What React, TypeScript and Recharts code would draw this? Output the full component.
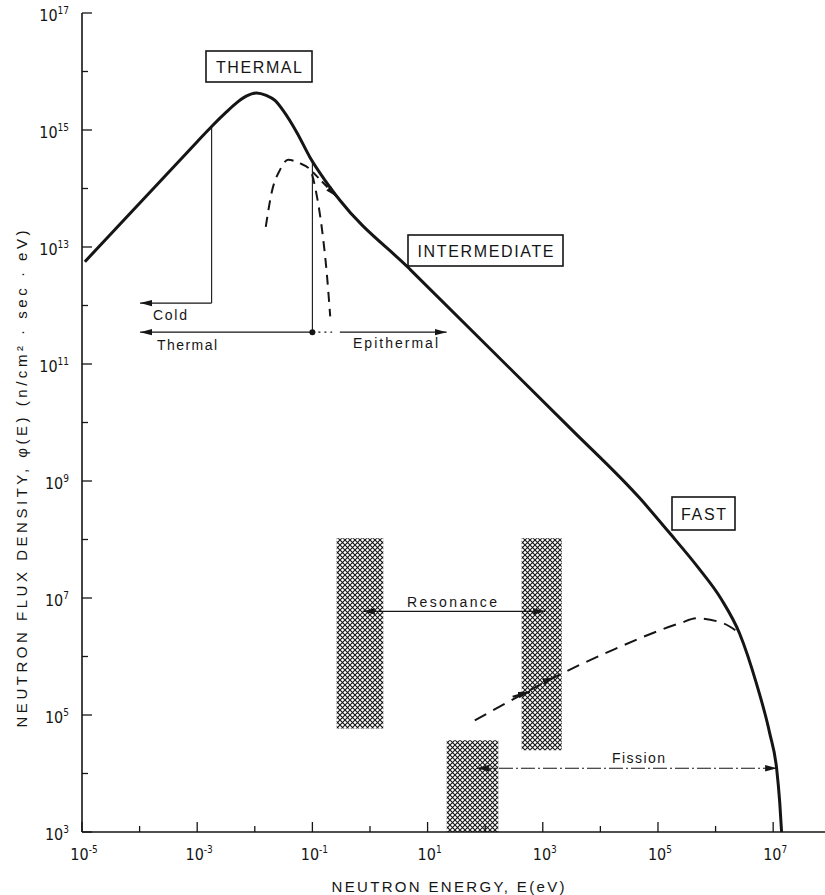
import React from "react";
import {
  ComposedChart,
  Line,
  XAxis,
  YAxis,
  ReferenceArea,
  ReferenceLine,
  ReferenceDot,
} from "recharts";

// total neutron flux spectrum (solid): E in eV, phi in n/cm2.sec.eV
const fluxSpectrum = [
  { E: 1.12e-5, phi: 5.6e12 },
  { E: 1.0e-4, phi: 5.6e13 },
  { E: 1.0e-3, phi: 6.3e14 },
  { E: 1.78e-3, phi: 1.15e15 },
  { E: 3.16e-3, phi: 2.0e15 },
  { E: 5.0e-3, phi: 3.0e15 },
  { E: 7.1e-3, phi: 3.8e15 },
  { E: 1.07e-2, phi: 4.3e15 },
  { E: 1.58e-2, phi: 3.9e15 },
  { E: 2.24e-2, phi: 3.2e15 },
  { E: 3.16e-2, phi: 2.1e15 },
  { E: 5.4e-2, phi: 9.0e14 },
  { E: 9.1e-2, phi: 3.4e14 },
  { E: 0.16, phi: 1.45e14 },
  { E: 0.3, phi: 6.3e13 },
  { E: 4.9, phi: 4.2e12 },
  { E: 2950, phi: 8.1e9 },
  { E: 4.9e4, phi: 5.0e8 },
  { E: 1.58e5, phi: 1.3e8 },
  { E: 5.0e5, phi: 3.3e7 },
  { E: 1.26e6, phi: 9.5e6 },
  { E: 2.6e6, phi: 2.5e6 },
  { E: 5.1e6, phi: 3.5e5 },
  { E: 8.7e6, phi: 4.9e4 },
  { E: 1.15e7, phi: 1.2e4 },
  { E: 1.3e7, phi: 3.2e3 },
  { E: 1.4e7, phi: 1.0e3 },
];

// thermalised (Maxwellian) part, dashed
const thermalSpectrum = [
  { E: 1.55e-2, phi: 2.2e13 },
  { E: 1.95e-2, phi: 8.3e13 },
  { E: 2.75e-2, phi: 2.1e14 },
  { E: 3.8e-2, phi: 3.1e14 },
  { E: 6.0e-2, phi: 2.7e14 },
  { E: 9.1e-2, phi: 2.1e14 },
  { E: 0.117, phi: 8.3e13 },
  { E: 0.145, phi: 2.2e13 },
  { E: 0.178, phi: 3.5e12 },
  { E: 0.204, phi: 6.5e11 },
];

// fission source spectrum, dashed
const fissionSpectrum = [
  { E: 66, phi: 8.1e4 },
  { E: 457, phi: 2.3e5 },
  { E: 1510, phi: 4.3e5 },
  { E: 1.66e4, phi: 1.3e6 },
  { E: 2.4e5, phi: 3.7e6 },
  { E: 4.7e5, phi: 4.5e6 },
  { E: 1.35e6, phi: 3.7e6 },
  { E: 2.6e6, phi: 2.5e6 },
];

// hatched bands: resonance region ends and fission region
const hatchBands = [
  { E1: 0.264, E2: 1.7, phi1: 5.9e4, phi2: 1.05e8 },
  { E1: 430, E2: 2130, phi1: 2.5e4, phi2: 1.05e8 },
  { E1: 21.5, E2: 169, phi1: 1e3, phi2: 3.7e4 },
];

// decade ticks
const xTickExps = [-5, -4, -3, -2, -1, 0, 1, 2, 3, 4, 5, 6, 7];
const yTickExps = [3, 4, 5, 6, 7, 8, 9, 10, 11, 12, 13, 14, 15, 16, 17];

const INK = "#151515";
const SANS = "'Liberation Sans', Arial, sans-serif";
const NARROW = "'Liberation Sans Narrow', 'DejaVu Sans Condensed', 'Liberation Sans', sans-serif";

function XTick(props: any) {
  const { x, y, payload } = props;
  const exp = Math.round(Math.log10(payload.value));
  const major = exp % 2 !== 0;
  return (
    <g>
      <line x1={x} x2={x} y1={y} y2={y - (major ? 10 : 6)} stroke={INK} strokeWidth={1.3} />
      {major && (
        <text x={x + 2} y={y + 28} textAnchor="middle" fontFamily={NARROW} fontSize={16} fill={INK}>
          10
          <tspan dy={-7} fontSize={10}>
            {exp}
          </tspan>
        </text>
      )}
    </g>
  );
}

function YTick(props: any) {
  const { x, y, payload } = props;
  const exp = Math.round(Math.log10(payload.value));
  const major = exp % 2 !== 0;
  return (
    <g>
      <line x1={x} x2={x + (major ? 10 : 6)} y1={y} y2={y} stroke={INK} strokeWidth={1.3} />
      {major && (
        <text x={x - 13} y={y + 8} textAnchor="end" fontFamily={NARROW} fontSize={16} fill={INK}>
          10
          <tspan dy={-7} fontSize={10}>
            {exp}
          </tspan>
        </text>
      )}
    </g>
  );
}

function BoxLabel({ x, y, w, h, text, tl }: any) {
  return (
    <g>
      <rect x={x} y={y} width={w} height={h} fill="#fff" stroke={INK} strokeWidth={1.6} />
      <text
        x={x + w / 2}
        y={y + h / 2 + 6}
        textAnchor="middle"
        fontFamily={SANS}
        fontSize={16}
        fill={INK}
        textLength={tl}
        lengthAdjust="spacing"
      >
        {text}
      </text>
    </g>
  );
}

function SmallLabel({ x, y, text, tl }: any) {
  return (
    <text x={x} y={y} fontFamily={SANS} fontSize={14} fill={INK} textLength={tl} lengthAdjust="spacing">
      {text}
    </text>
  );
}

export default function App() {
  const thin = { stroke: INK, strokeWidth: 1.1, ifOverflow: "visible" as const };
  return (
    <div style={{ position: "absolute", left: 0, top: 0, width: 825, height: 895, background: "#fff" }}>
      <ComposedChart width={825} height={895} margin={{ top: 13, right: 0, bottom: 0, left: 0 }}>
        <defs>
          <pattern id="hatch" width="5" height="5" patternUnits="userSpaceOnUse">
            <rect width="5" height="5" fill="#fff" />
            <path d="M0,0 L5,5 M5,0 L0,5" stroke={INK} strokeWidth="1.1" />
          </pattern>
          <marker
            id="arrowHead"
            viewBox="0 0 12 8"
            refX="12"
            refY="4"
            markerWidth="12"
            markerHeight="8"
            markerUnits="userSpaceOnUse"
            orient="auto-start-reverse"
          >
            <path d="M0,0.8 L12,4 L0,7.2 Z" fill={INK} />
          </marker>
        </defs>

        <XAxis
          dataKey="E"
          type="number"
          scale="log"
          domain={[1e-5, 7.94e7]}
          allowDataOverflow
          ticks={xTickExps.map((e) => 10 ** e)}
          interval={0}
          tickSize={0}
          tickMargin={0}
          tickLine={false}
          height={63}
          axisLine={{ stroke: INK, strokeWidth: 1.6 }}
          tick={(p: any) => <XTick {...p} />}
        />
        <YAxis
          type="number"
          scale="log"
          domain={[1e3, 1e17]}
          allowDataOverflow
          ticks={yTickExps.map((e) => 10 ** e)}
          interval={0}
          tickSize={0}
          tickMargin={0}
          tickLine={false}
          width={82}
          axisLine={{ stroke: INK, strokeWidth: 1.6 }}
          tick={(p: any) => <YTick {...p} />}
        />

        {hatchBands.map((b, i) => (
          <ReferenceArea
            key={i}
            x1={b.E1}
            x2={b.E2}
            y1={b.phi1}
            y2={b.phi2}
            fill="url(#hatch)"
            fillOpacity={1}
            stroke="none"
            ifOverflow="visible"
          />
        ))}

        {/* cold / thermal / epithermal markers */}
        <ReferenceLine segment={[{ x: 1.78e-3, y: 1.15e15 }, { x: 1.78e-3, y: 1.1e12 }]} {...thin} />
        <ReferenceLine
          segment={[{ x: 1.78e-3, y: 1.1e12 }, { x: 1.02e-4, y: 1.1e12 }]}
          {...thin}
          markerEnd="url(#arrowHead)"
        />
        <ReferenceLine segment={[{ x: 0.1, y: 3.0e14 }, { x: 0.1, y: 3.5e11 }]} {...thin} />
        <ReferenceLine
          segment={[{ x: 0.1, y: 3.5e11 }, { x: 1.02e-4, y: 3.5e11 }]}
          {...thin}
          markerEnd="url(#arrowHead)"
        />
        <ReferenceLine
          segment={[{ x: 0.1, y: 3.5e11 }, { x: 0.22, y: 3.5e11 }]}
          {...thin}
          strokeDasharray="2 4"
        />
        <ReferenceLine
          segment={[{ x: 0.3, y: 3.5e11 }, { x: 21.4, y: 3.5e11 }]}
          {...thin}
          markerEnd="url(#arrowHead)"
        />
        <ReferenceDot x={0.1} y={3.5e11} r={3} fill={INK} stroke="none" ifOverflow="visible" />

        {/* resonance and fission ranges */}
        <ReferenceLine
          segment={[{ x: 0.75, y: 5.9e6 }, { x: 1100, y: 5.9e6 }]}
          {...thin}
          markerStart="url(#arrowHead)"
          markerEnd="url(#arrowHead)"
        />
        <ReferenceLine
          segment={[{ x: 72, y: 1.23e4 }, { x: 1.17e7, y: 1.23e4 }]}
          {...thin}
          strokeDasharray="14 3 2 3"
          markerStart="url(#arrowHead)"
          markerEnd="url(#arrowHead)"
        />

        <Line
          data={thermalSpectrum}
          dataKey="phi"
          type="monotone"
          stroke={INK}
          strokeWidth={2}
          strokeDasharray="10 7"
          dot={false}
          isAnimationActive={false}
        />
        <ReferenceLine
          segment={[{ x: 0.102, y: 1.9e14 }, { x: 0.267, y: 7.2e13 }]}
          stroke={INK}
          strokeWidth={2}
          strokeDasharray="8 5"
          ifOverflow="visible"
          markerEnd="url(#arrowHead)"
        />
        <Line
          data={fissionSpectrum}
          dataKey="phi"
          type="monotone"
          stroke={INK}
          strokeWidth={2}
          strokeDasharray="13 8"
          dot={false}
          isAnimationActive={false}
        />
        {/* slowing-down direction marks on the fission curve */}
        <ReferenceLine
          segment={[{ x: 300, y: 2.05e5 }, { x: 600, y: 2.5e5 }]}
          stroke={INK}
          strokeWidth={2}
          ifOverflow="visible"
          markerEnd="url(#arrowHead)"
        />
        <ReferenceLine
          segment={[{ x: 1100, y: 3.8e5 }, { x: 1600, y: 4.4e5 }]}
          stroke={INK}
          strokeWidth={2}
          ifOverflow="visible"
          markerEnd="url(#arrowHead)"
        />
        <Line
          data={fluxSpectrum}
          dataKey="phi"
          type="monotone"
          stroke={INK}
          strokeWidth={3}
          dot={false}
          isAnimationActive={false}
        />

        <BoxLabel x={206} y={51} w={106} h={31} text="THERMAL" tl={86} />
        <BoxLabel x={408} y={235} w={155} h={31} text="INTERMEDIATE" tl={136} />
        <BoxLabel x={672} y={497} w={63} h={33} text="FAST" tl={45} />

        <SmallLabel x={153} y={320} text="Cold" tl={34} />
        <SmallLabel x={157} y={350} text="Thermal" tl={60} />
        <SmallLabel x={353} y={348} text="Epithermal" tl={85} />
        <SmallLabel x={407} y={607} text="Resonance" tl={90} />
        <SmallLabel x={612} y={763} text="Fission" tl={53} />

        <text
          x={448}
          y={892}
          textAnchor="middle"
          fontFamily={SANS}
          fontSize={15}
          fill={INK}
          textLength={233}
          lengthAdjust="spacing"
        >
          NEUTRON ENERGY, E(eV)
        </text>
        <text
          transform="translate(27, 479) rotate(-90)"
          textAnchor="middle"
          fontFamily={SANS}
          fontSize={15}
          fill={INK}
          textLength={497}
          lengthAdjust="spacing"
        >
          NEUTRON FLUX DENSITY, φ(E) (n/cm² · sec · eV)
        </text>
      </ComposedChart>
    </div>
  );
}
